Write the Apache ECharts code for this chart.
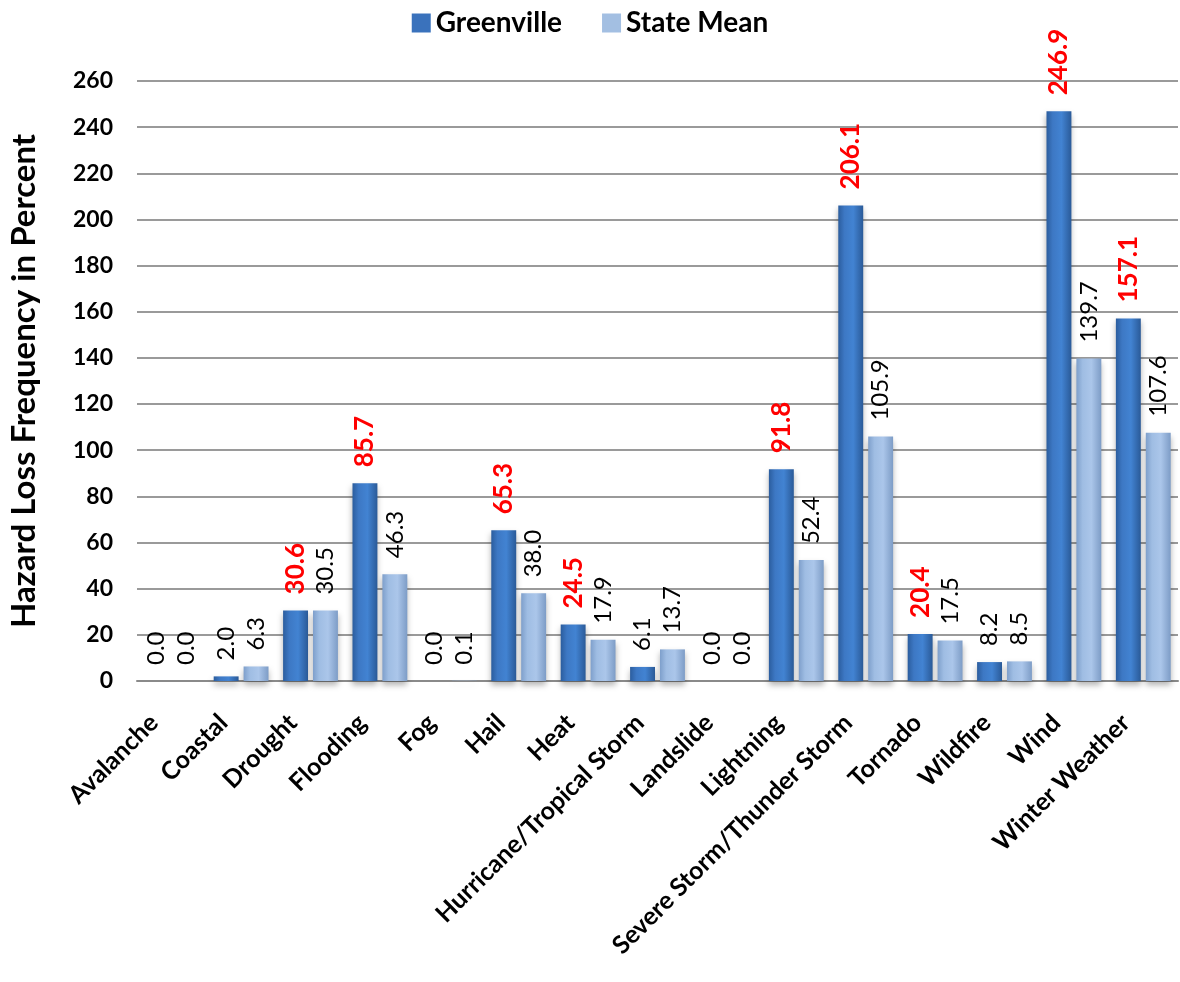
<!DOCTYPE html>
<html>
<head>
<meta charset="utf-8">
<script src="https://cdn.jsdelivr.net/npm/echarts@6/dist/echarts.min.js"></script>
<style>
html,body{margin:0;padding:0;background:#fff;}
#chart{width:1180px;height:982px;}
</style>
</head>
<body>
<div id="chart"></div>
<script>
const categories = ["Avalanche","Coastal","Drought","Flooding","Fog","Hail","Heat","Hurricane/Tropical Storm","Landslide","Lightning","Severe Storm/Thunder Storm","Tornado","Wildfire","Wind","Winter Weather"];
const greenville = [0.0, 2.0, 30.6, 85.7, 0.0, 65.3, 24.5, 6.1, 0.0, 91.8, 206.1, 20.4, 8.2, 246.9, 157.1];
const stateMean = [0.0, 6.3, 30.5, 46.3, 0.1, 38.0, 17.9, 13.7, 0.0, 52.4, 105.9, 17.5, 8.5, 139.7, 107.6];
const yTicks = [0, 20, 40, 60, 80, 100, 120, 140, 160, 180, 200, 220, 240, 260];

const FONT = 'Lato, "Open Sans", sans-serif';

const blueGrad = new echarts.graphic.LinearGradient(0, 0, 1, 0, [
  {offset: 0, color: '#2b5d9e'},
  {offset: 0.25, color: '#3d78c4'},
  {offset: 0.6, color: '#4283d2'},
  {offset: 1, color: '#2a5a98'}
]);
const lightGrad = new echarts.graphic.LinearGradient(0, 0, 1, 0, [
  {offset: 0, color: '#7e9fcb'},
  {offset: 0.25, color: '#9fbde3'},
  {offset: 0.6, color: '#abc6ea'},
  {offset: 1, color: '#7d9cc6'}
]);

const greenData = greenville.map((v, i) => {
  const higher = v > stateMean[i];
  return {
    value: v,
    label: higher
      ? {color: '#ff0000', fontWeight: 'bold', fontSize: 26}
      : {color: '#000000', fontWeight: 'normal', fontSize: 24}
  };
});

const chart = echarts.init(document.getElementById('chart'));
chart.setOption({
  animation: false,
  backgroundColor: '#ffffff',
  textStyle: {fontFamily: FONT},
  legend: {
    top: 4,
    left: 'center',
    itemWidth: 19,
    itemHeight: 19,
    itemGap: 40,
    icon: 'rect',
    textStyle: {fontFamily: FONT, fontSize: 28, fontWeight: 'bold', color: '#000'},
    data: [
      {name: 'Greenville', itemStyle: {color: '#3a72bc'}},
      {name: 'State Mean', itemStyle: {color: '#a3bfe2'}}
    ]
  },
  grid: {left: 130, right: 2, top: 81, bottom: 301, containLabel: false},
  xAxis: {
    type: 'category',
    data: categories,
    axisLine: {show: true, lineStyle: {color: '#8a8a8a', width: 2}},
    axisTick: {show: false},
    axisLabel: {
      interval: 0,
      rotate: 45,
      margin: 20,
      padding: [0, 25, 0, 0],
      fontFamily: FONT,
      fontSize: 25,
      fontWeight: 'bold',
      color: '#000'
    }
  },
  yAxis: {
    type: 'value',
    min: 0,
    max: 260,
    interval: 20,
    name: 'Hazard Loss Frequency in Percent',
    nameLocation: 'middle',
    nameGap: 96,
    nameTextStyle: {fontFamily: FONT, fontSize: 33, fontWeight: 'bold', color: '#000'},
    axisLine: {show: false},
    axisTick: {show: false},
    axisLabel: {
      margin: 24,
      fontFamily: FONT,
      fontSize: 23,
      fontWeight: 'bold',
      color: '#000',
      formatter: v => (yTicks.indexOf(v) >= 0 ? String(v) : '')
    },
    splitLine: {show: true, lineStyle: {color: '#9a9a9a', width: 2}}
  },
  series: [
    {
      name: 'Greenville',
      type: 'bar',
      data: greenData,
      barGap: '20%',
      barCategoryGap: '21%',
      itemStyle: {
        color: blueGrad,
        shadowColor: 'rgba(0,0,0,0.3)',
        shadowBlur: 6,
        shadowOffsetY: 4
      },
      label: {
        show: true,
        position: 'top',
        rotate: 90,
        align: 'left',
        verticalAlign: 'middle',
        distance: 16,
        fontFamily: FONT,
        fontSize: 24,
        formatter: p => p.value.toFixed(1)
      }
    },
    {
      name: 'State Mean',
      type: 'bar',
      data: stateMean,
      itemStyle: {
        color: lightGrad,
        shadowColor: 'rgba(0,0,0,0.3)',
        shadowBlur: 6,
        shadowOffsetY: 4
      },
      label: {
        show: true,
        position: 'top',
        rotate: 90,
        align: 'left',
        verticalAlign: 'middle',
        distance: 16,
        fontFamily: FONT,
        fontSize: 24,
        color: '#000',
        formatter: p => p.value.toFixed(1)
      }
    }
  ]
});
</script>
</body>
</html>
